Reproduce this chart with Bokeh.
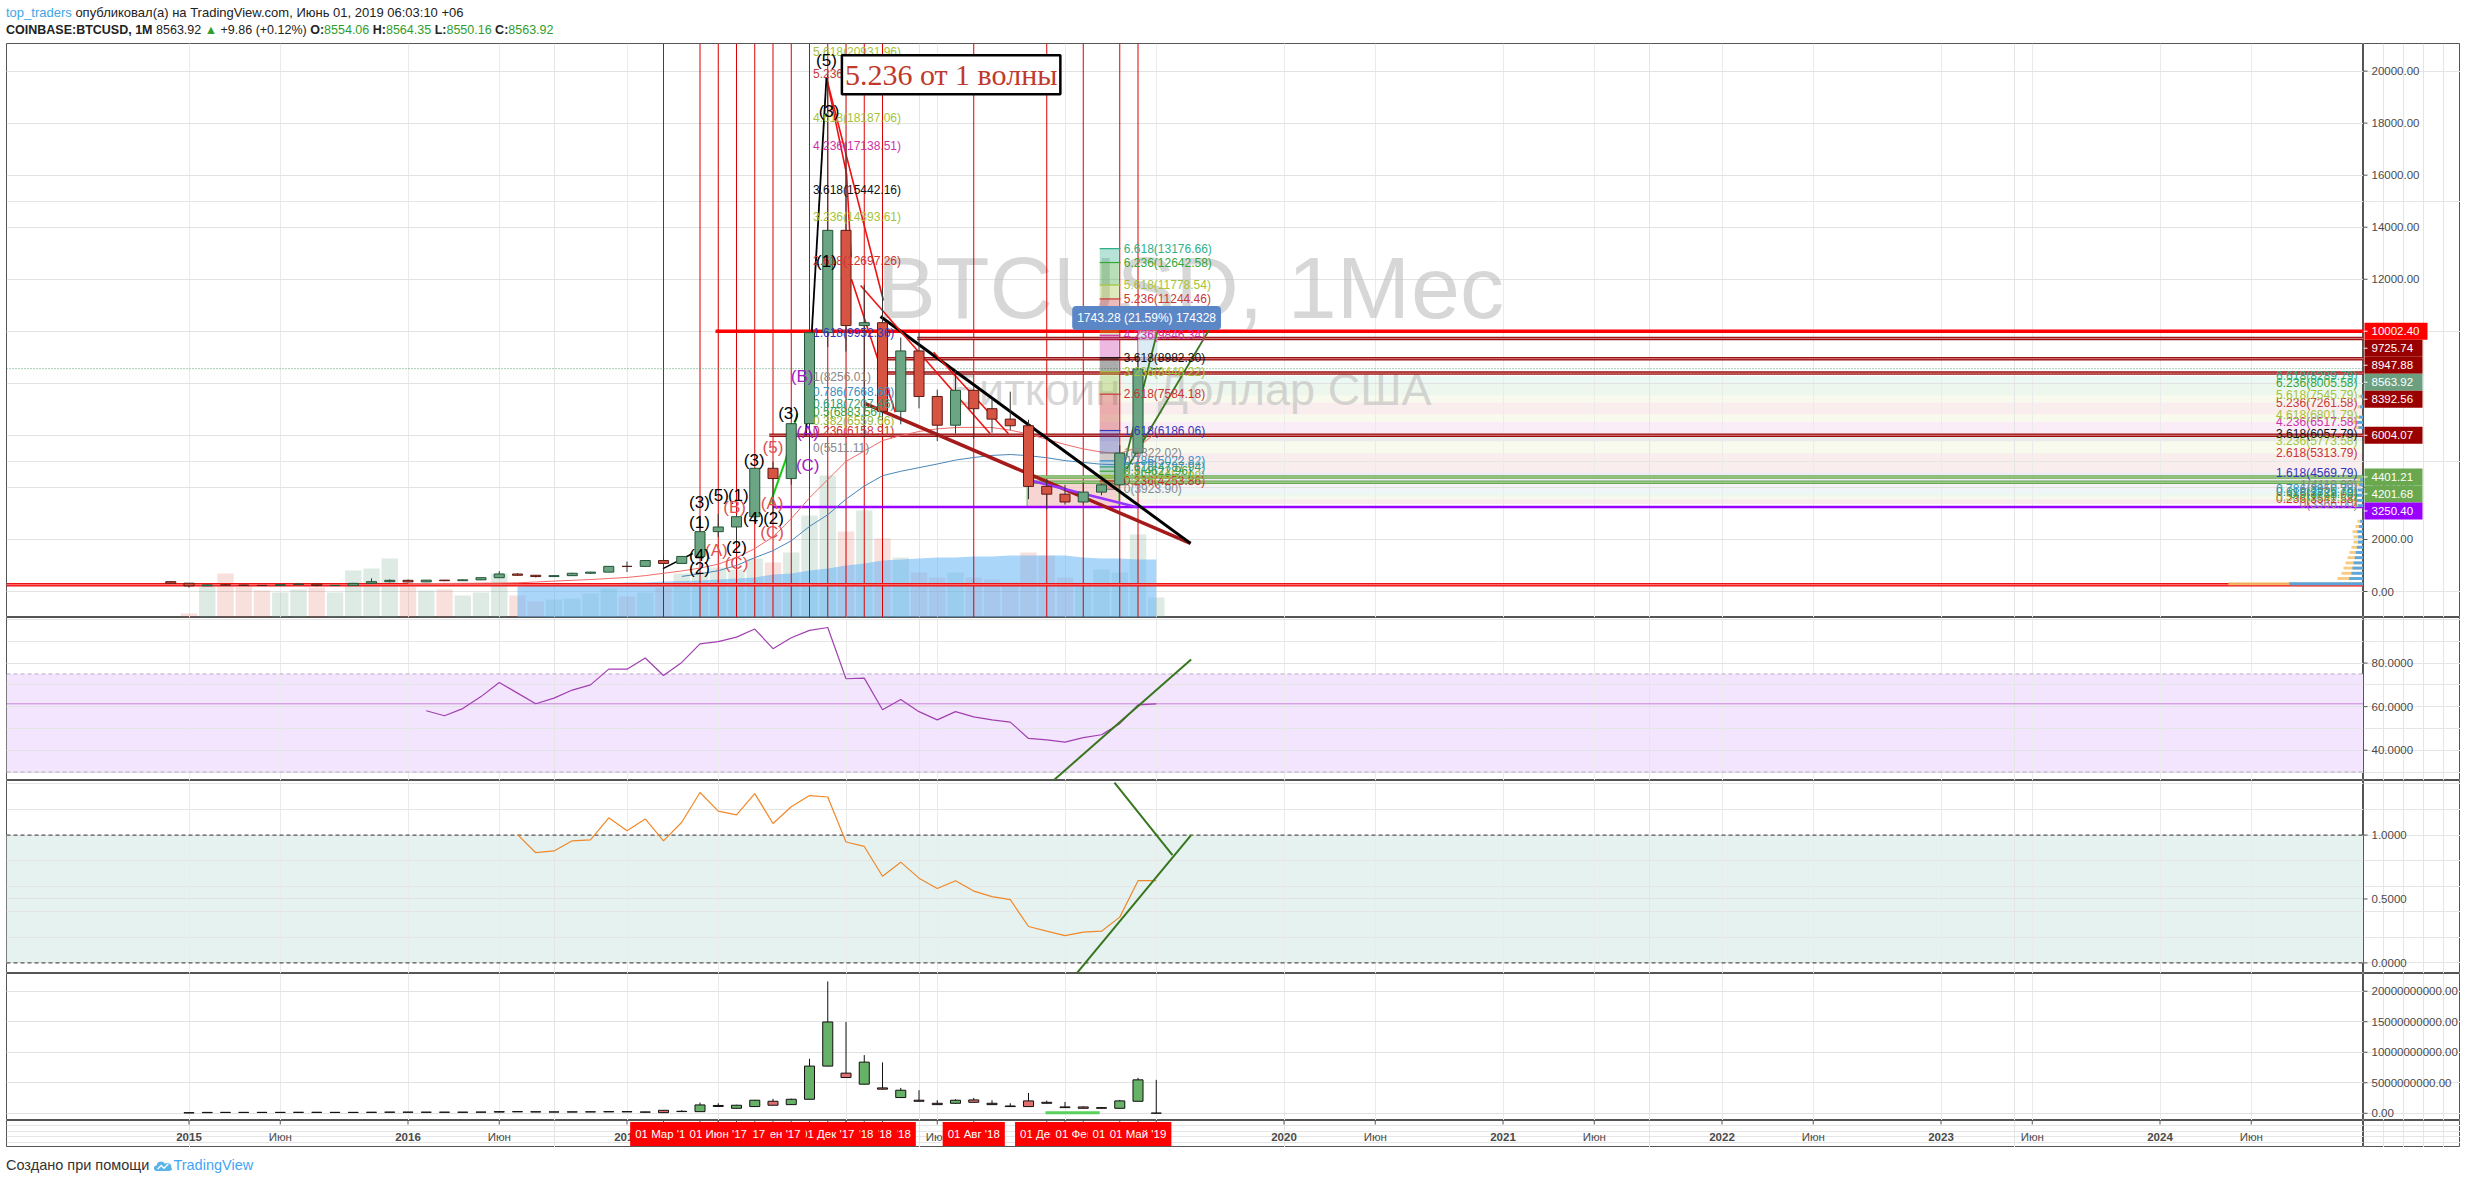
import numpy as np
from bokeh.plotting import figure
from bokeh.models import Range1d, FixedTicker, Label, Grid, Div
from bokeh.layouts import column, row
from bokeh.embed import file_html
from bokeh.resources import INLINE
from bokeh.core.properties import value

# ------------------------------------------------------------------ DATA
months = ["2014-12",
          "2015-01", "2015-02", "2015-03", "2015-04", "2015-05", "2015-06",
          "2015-07", "2015-08", "2015-09", "2015-10", "2015-11", "2015-12",
          "2016-01", "2016-02", "2016-03", "2016-04", "2016-05", "2016-06",
          "2016-07", "2016-08", "2016-09", "2016-10", "2016-11", "2016-12",
          "2017-01", "2017-02", "2017-03", "2017-04", "2017-05", "2017-06",
          "2017-07", "2017-08", "2017-09", "2017-10", "2017-11", "2017-12",
          "2018-01", "2018-02", "2018-03", "2018-04", "2018-05", "2018-06",
          "2018-07", "2018-08", "2018-09", "2018-10", "2018-11", "2018-12",
          "2019-01", "2019-02", "2019-03", "2019-04", "2019-05", "2019-06"]

price_open = [378, 318, 217, 254, 244, 236, 230, 263, 284, 230, 236, 313, 377,
              430, 369, 437, 416, 448, 531, 673, 624, 574, 609, 701, 745,
              966, 965, 1190, 1079, 1348, 2300, 2480, 2875, 4735, 4340, 6450, 9950,
              13880, 10220, 10330, 6925, 9245, 7495, 6390, 7730, 7025, 6625, 6370, 4040,
              3740, 3440, 3820, 4100, 5320, 8554.06]
price_high = [400, 320, 265, 300, 261, 248, 268, 318, 285, 245, 334, 502, 468,
              462, 443, 439, 467, 550, 780, 703, 628, 628, 720, 755, 980,
              1150, 1210, 1350, 1350, 2790, 2980, 2930, 4750, 4980, 6470, 11400, 19891,
              17250, 11780, 11680, 9760, 9990, 7760, 8500, 7760, 7410, 7680, 6600, 4310,
              4100, 4200, 4130, 5620, 9080, 8564.35]
price_low = [305, 152, 212, 238, 214, 228, 219, 253, 199, 225, 236, 300, 350,
             350, 367, 396, 412, 436, 528, 607, 540, 570, 604, 682, 740,
             752, 940, 890, 1060, 1348, 2100, 1830, 2670, 2980, 4110, 5500, 9400,
             9220, 5920, 6600, 6425, 7040, 5780, 6070, 5880, 6100, 6200, 3550, 3160,
             3340, 3380, 3700, 4050, 5320, 8550.16]
price_close = [318, 217, 254, 244, 236, 230, 263, 284, 230, 236, 313, 377, 430,
               369, 437, 416, 448, 531, 673, 624, 574, 609, 701, 745, 966,
               965, 1190, 1079, 1348, 2300, 2480, 2875, 4735, 4340, 6450, 9950, 13880,
               10220, 10330, 6925, 9245, 7495, 6390, 7730, 7025, 6625, 6370, 4040, 3740,
               3440, 3820, 4100, 5320, 8555, 8563.92]

# volume shown as bars inside the price pane (relative units)
pane_volume = [np.nan, 4, 31, 44, 31, 27, 25, 28, 30, 25, 47, 49, 59,
               31, 27, 28, 22, 25, 44, 22, 16, 18, 19, 24, 29,
               21, 25, 30, 44, 45, 50, 48, 59, 55, 65, 102, 142,
               86, 107, 79, 60, 45, 40, 45, 40, 38, 35, 65, 62,
               40, 35, 48, 45, 83, 20]
vol_ma_start = "2016-07"
pane_volume_ma = [31, 32, 34, 34, 34, 34, 35, 35, 36, 36.5, 37, 38, 39, 40, 43, 44, 47, 49,
                  52, 54, 57, 58, 59, 60, 60, 61, 61, 62, 62, 62, 62, 60, 59, 59, 58, 58]

ma_red_start = "2016-01"
ma_red = [300, 305, 310, 315, 320, 325, 335, 365, 400, 430, 460, 500,
          540, 610, 700, 790, 900, 1050, 1300, 1650, 2100, 2800, 3600, 4300,
          5000, 5400, 5800, 5990, 6150, 6250, 6300, 6310, 6300, 6200, 6050, 5850,
          5650, 5480, 5360, 5300, 5550, 6100]
ma_blue_start = "2017-04"
ma_blue = [580, 680, 800, 1000, 1300, 1570, 1950, 2500, 2950,
           3550, 4050, 4450, 4620, 4760, 4900, 5050, 5150, 5230, 5265, 5220, 5140,
           5030, 4960, 4890, 4870, 4950, 5000]

# lower pane: volume candles (billions USD)
nan = np.nan
vol_open = [nan, 0.06, 0.10, 0.15, 0.14, 0.15, 0.14, 0.15, 0.16, 0.15, 0.14, 0.15, 0.17,
            0.19, 0.17, 0.18, 0.17, 0.18, 0.20, 0.27, 0.25, 0.22, 0.21, 0.23, 0.24,
            0.24, 0.22, 0.49, 0.28, 0.27, 1.12, 0.82, 1.10, 1.97, 1.42, 2.30, 7.73,
            6.58, 4.77, 4.16, 2.58, 2.14, 1.64, 1.64, 2.19, 1.64, 1.20, 2.03, 1.80,
            1.04, 1.04, 0.93, 0.82, 1.97, 0.02]
vol_close = [nan, 0.10, 0.15, 0.14, 0.15, 0.14, 0.15, 0.16, 0.15, 0.14, 0.15, 0.17, 0.19,
             0.17, 0.18, 0.17, 0.18, 0.20, 0.27, 0.25, 0.22, 0.21, 0.23, 0.24, 0.27,
             0.27, 0.18, 0.11, 0.33, 1.37, 1.28, 1.32, 2.14, 1.32, 2.30, 7.73, 14.96,
             5.86, 8.38, 3.95, 3.78, 1.97, 1.42, 2.14, 1.80, 1.42, 1.10, 1.10, 1.64,
             0.93, 0.82, 0.82, 2.03, 5.48, 0.03]
vol_high = [nan, 0.12, 0.18, 0.17, 0.17, 0.16, 0.17, 0.18, 0.17, 0.16, 0.17, 0.20, 0.22,
            0.21, 0.20, 0.20, 0.20, 0.22, 0.30, 0.30, 0.26, 0.24, 0.26, 0.27, 0.30,
            0.30, 0.25, 0.52, 0.49, 1.75, 1.64, 1.40, 2.20, 2.36, 2.40, 8.93, 21.6,
            14.96, 9.53, 8.33, 4.16, 3.78, 2.14, 2.30, 2.52, 2.14, 1.64, 3.34, 2.08,
            1.86, 1.15, 1.04, 2.19, 5.80, 5.48]
vol_low = [nan, 0.05, 0.09, 0.12, 0.12, 0.12, 0.12, 0.13, 0.13, 0.12, 0.12, 0.14, 0.15,
           0.15, 0.15, 0.15, 0.15, 0.16, 0.18, 0.22, 0.20, 0.19, 0.19, 0.21, 0.22,
           0.22, 0.15, 0.10, 0.25, 0.25, 1.05, 0.78, 1.05, 1.30, 1.40, 2.25, 7.70,
           5.80, 4.70, 3.90, 2.55, 1.95, 1.40, 1.60, 1.78, 1.40, 1.08, 1.08, 1.60,
           0.90, 0.80, 0.80, 0.80, 1.95, 0.00]

rsi_start = "2016-02"
rsi_values = [58.1, 55.8, 59.1, 64.6, 71.1, 66.2, 61.3, 63.9, 67.6, 70.0, 77.2, 77.2,
              82.3, 74.3, 80.3, 88.8, 89.8, 91.9, 95.6, 86.6, 91.6, 95.0, 96.3,
              72.8, 73.1, 58.6, 63.3, 57.7, 53.9, 57.7, 55.3, 53.9, 52.9, 45.4, 44.7,
              43.7, 45.8, 47.1, 52.2, 60.8, 61.3]
stoch_start = "2016-07"
stoch_values = [1.004, 0.862, 0.876, 0.955, 0.963, 1.135, 1.033, 1.126, 0.955, 1.100,
                1.333, 1.188, 1.158, 1.324, 1.091, 1.222, 1.309, 1.298, 0.946, 0.911,
                0.678, 0.788, 0.663, 0.582, 0.643, 0.562, 0.518, 0.495, 0.285, 0.248,
                0.213, 0.241, 0.248, 0.358, 0.643, 0.643]

# x-axis
tick_months = ["2015-01", "2015-06", "2016-01", "2016-06", "2017-01", "2017-06",
               "2018-01", "2018-06", "2019-01", "2019-06", "2020-01", "2020-06",
               "2021-01", "2021-06", "2022-01", "2022-06", "2023-01", "2023-06",
               "2024-01", "2024-06"]
tick_labels = ["2015", "Июн", "2016", "Июн", "2017", "Июн", "2018", "Июн", "2019", "Июн",
               "2020", "Июн", "2021", "Июн", "2022", "Июн", "2023", "Июн", "2024", "Июн"]

# marked dates (red verticals + red axis labels), in drawing order
marked_dates = ["2017-05", "2017-08", "2017-10", "2017-11", "2018-03", "2018-02",
                "2018-01", "2017-12", "2017-09", "2017-07", "2017-03", "2017-06",
                "2018-08", "2018-12", "2019-02", "2019-04", "2019-05"]
marked_labels = ["01 Май '17", "01 Авг '17", "01 Окт '17", "01 Ноя '17", "01 Мар '18",
                 "01 Фев '18", "01 Янв '18", "01 Дек '17", "01 Сен '17", "01 Июл '17",
                 "01 Мар '17", "01 Июн '17", "01 Авг '18", "01 Дек '18", "01 Фев '19",
                 "01 Апр '19", "01 Май '19"]

# horizontal levels (price, kind, line start in month index)
level_prices = [10002.40, 9725.74, 8947.88, 8563.92, 8392.56, 6004.07, 4401.21, 4201.68, 3250.40]
level_kinds = ["bright", "dark", "dark", "last", "dark", "dark", "green", "green", "purple"]
level_start = [28.85, 39.9, 37.9, -10.0, 37.9, 31.8, 45.9, 45.9, 32.0]
support_price = 262.0

# Fibonacci tools
fib_ratios = [0, 0.236, 0.382, 0.5, 0.618, 0.786, 1, 1.618, 2.618, 3.236, 3.618,
              4.236, 4.618, 5.236, 5.618, 6.236, 6.618]
fib_left = (5511.11, 8256.01)
fib_mid = (3923.90, 5322.02)
fib_right = (3366.00, 4110.00)

# Elliott wave marks (month index, price, text, colour)
waves = [
    (34.93, 20400, "(5)", "black"), (35.07, 18460, "(3)", "black"), (34.93, 12700, "(1)", "black"),
    (32.85, 6840, "(3)", "black"), (33.9, 6122, "(A)", "purple"), (33.9, 4842, "(C)", "purple"),
    (33.6, 8250, "(B)", "purple"), (32.0, 5545, "(5)", "red"), (30.97, 5050, "(3)", "black"),
    (30.93, 2800, "(4)", "black"), (32.03, 2800, "(2)", "black"), (31.95, 3370, "(A)", "red"),
    (31.95, 2280, "(C)", "red"), (27.97, 3430, "(3)", "black"), (29.01, 3690, "(5)", "black"),
    (30.1, 3690, "(1)", "black"), (27.97, 2660, "(1)", "black"), (29.9, 3240, "(B)", "red"),
    (28.9, 1575, "(A)", "red"), (30.0, 1700, "(2)", "black"), (30.0, 1075, "(C)", "red"),
    (27.97, 1380, "(4)", "black"), (27.97, 870, "(2)", "black"),
]

# drawn trend lines (month index, price)
trend_black = [(37.89, 10570), (54.88, 1850)]
trend_darkred = [(37.05, 7220), (54.88, 1850)]
wave_black = [(33.8, 6000), (34.93, 19765)]
wave_black2 = [(25.97, 880), (27.6, 1460)]
wave_green = [(31.84, 3370), (32.68, 5030), (33.33, 6830)]
red_lines = [[(34.92, 19765), (36.03, 16052), (36.28, 12847)],
             [(34.92, 19765), (38.05, 11183)],
             [(36.3, 12000), (38.7, 6890)],
             [(36.8, 11760), (43.9, 6060)],
             [(40.8, 9197), (44.9, 6060)]]
purple_line = [(46.11, 4266), (51.96, 3240)]
green_up_a = [(51.04, 4300), (53.07, 10030)]
green_up_b = [(51.37, 4700), (55.87, 10030)]
rsi_lines = [[(47.35, 26.0), (54.91, 81.6)]]
stoch_lines = [[(50.71, 1.411), (53.89, 0.844)], [(48.66, -0.078), (54.91, 1.0)]]
vol_green_line = [(46.93, 0.11), (49.9, 0.11)]
box_zone = (45.93, 50.95, 3240, 4393)
measure_zone = (52.0, 53.07, 8493, 10030)
measure_text = "1743.28 (21.59%) 174328"
measure_pos = (52.47, 10510)
note_text = "5.236 от 1 волны"
note_pos = (41.76, 19861)

# volume profile at right edge (price bin, volume)
vp_price = [300, 500, 700, 900, 1100, 1300, 1500, 1700, 1900, 2100, 2300, 2500, 2700,
            3300, 3500, 3700, 3900, 4100, 4300, 6300, 6500, 6700, 7100, 7500]
vp_vol = [135, 26, 22, 20, 18, 16, 14, 12, 10, 10, 11, 8, 6, 10, 12, 12, 10, 8, 6,
          9, 12, 8, 6, 5]

# ------------------------------------------------------------------ HELPERS
def midx(s):
    y, m = s.split("-")
    return (int(y) - 2015) * 12 + int(m) - 1

xm = np.array([midx(s) for s in months], dtype=float)
FONT = "Liberation Sans"
X0, X1 = -10.0, 119.15
FW = 2357
RB = 97
LM = 6
xr = Range1d(X0, X1)
tick_x = [midx(s) for s in tick_months]
AXC = "#555555"
LBL = "#4a4a4a"


def base_fig(w, h, xrange, yrange, left=0):
    return figure(frame_width=w, frame_height=h, x_range=xrange, y_range=yrange,
                  x_axis_location=None, y_axis_location=None, title=None,
                  toolbar_location=None, output_backend="svg",
                  min_border_left=left, min_border_right=0, min_border_top=0, min_border_bottom=0,
                  outline_line_color=AXC, outline_line_width=1,
                  background_fill_color="white", border_fill_color="white")


def pane(h, y0, y1, ticks, fmt):
    yr = Range1d(y0, y1)
    p = base_fig(FW, h, xr, yr, left=LM)
    p.add_layout(Grid(dimension=0, ticker=FixedTicker(ticks=tick_x),
                      grid_line_color="#ebebeb", grid_line_width=1))
    p.add_layout(Grid(dimension=1, ticker=FixedTicker(ticks=ticks),
                      grid_line_color="#e2e2e2", grid_line_width=1))
    ax = base_fig(RB, h, Range1d(0, RB), yr)
    ax.segment([0] * len(ticks), ticks, [4] * len(ticks), ticks, line_color=AXC, line_width=1)
    ax.text(x=[8] * len(ticks), y=ticks, text=[fmt % t for t in ticks], text_font=value(FONT),
            text_font_size="11.5px", text_color=LBL, text_align="left", text_baseline="middle")
    return p, ax


def candles(p, xs, o, h, l, c, up, dn, up_line, dn_line, wick, w):
    o, h, l, c = (np.array(a, dtype=float) for a in (o, h, l, c))
    ok = ~np.isnan(o)
    xs, o, h, l, c = xs[ok], o[ok], h[ok], l[ok], c[ok]
    inc = c >= o
    top, bot = np.maximum(o, c), np.minimum(o, c)
    p.segment(xs, h, xs, l, line_color=wick, line_width=1)
    p.vbar(x=xs[inc], width=w, top=top[inc], bottom=bot[inc], fill_color=up, line_color=up_line)
    p.vbar(x=xs[~inc], width=w, top=top[~inc], bottom=bot[~inc], fill_color=dn, line_color=dn_line)


def poly(p, pts, **kw):
    p.line([a for a, b in pts], [b for a, b in pts], **kw)


fib_colors = {0: "#888888", 0.236: "#cc3333", 0.382: "#99b83a", 0.5: "#3ca33c",
              0.618: "#2e9c7a", 0.786: "#3a8fc4", 1: "#888888", 1.618: "#3535b5",
              2.618: "#cc3333", 3.236: "#a3c43c", 3.618: "#111111", 4.236: "#cc33aa",
              4.618: "#a3c43c", 5.236: "#c83a3a", 5.618: "#a3c43c", 6.236: "#35a635",
              6.618: "#2fb08a"}


def fib_levels(base):
    a, b = base
    return [a + r * (b - a) for r in fib_ratios]

# ------------------------------------------------------------------ MAIN PANE
PY0, PY1, PH = -999.0, 21060.0, 574
scale = PH / (PY1 - PY0)
main, main_ax = pane(PH, PY0, PY1, list(range(0, 20001, 2000)), "%.2f")
main.extra_y_ranges = {"pvol": Range1d(0, PH)}

# right fib background bands
rl = fib_levels(fib_right)
for i in range(len(rl) - 1):
    main.quad(left=49.9, right=X1, bottom=rl[i], top=rl[i + 1],
              fill_color=fib_colors[fib_ratios[i + 1]], fill_alpha=0.09, line_color=None, level="image")
bz = box_zone
main.quad(left=bz[0], right=bz[1], bottom=bz[2], top=bz[3], fill_color="#f4c7c3",
          fill_alpha=0.75, line_color="#93c47d", line_width=1.5)

# watermark
cx = (X0 + X1) / 2 + 0.3
main.text(x=[cx], y=[11683], text=["BTCUSD, 1Мес"], text_font=value(FONT),
          text_font_size="88px", text_color="#bdbdbd", text_alpha=0.6,
          text_align="center", text_baseline="middle")
main.text(x=[cx], y=[7760], text=["Биткоин / Доллар США"], text_font=value(FONT),
          text_font_size="45px", text_color="#bdbdbd", text_alpha=0.6,
          text_align="center", text_baseline="middle")

# volume bars + volume MA area (inside the price pane)
pv = np.array(pane_volume, dtype=float)
upc = np.array(price_close) >= np.array(price_open)
main.vbar(x=xm[upc], width=0.9, top=pv[upc], bottom=0, y_range_name="pvol",
          fill_color="#6ba583", fill_alpha=0.22, line_color=None)
main.vbar(x=xm[~upc], width=0.9, top=pv[~upc], bottom=0, y_range_name="pvol",
          fill_color="#d75442", fill_alpha=0.18, line_color=None)
vx = midx(vol_ma_start) + np.arange(len(pane_volume_ma))
main.varea(x=vx, y1=0, y2=pane_volume_ma, y_range_name="pvol", fill_color="#64b5f6", fill_alpha=0.55)

# red vertical markers
for s in marked_dates:
    main.segment(midx(s), PY0, midx(s), PY1, line_color="#dd0000", line_width=1)

# horizontal levels
main.segment(X0, support_price, X1, support_price, line_color="#ee1111", line_width=3.5)
main.segment(X0, support_price, X1, support_price, line_color="#ff9a9a", line_width=0.8)
line_style = {"bright": ("#ff0000", None), "dark": ("#9a1010", "#e8a0a0"),
              "green": ("#6aa84f", "#c9e6bd"), "purple": ("#9900ff", None)}
for pr, kind, st in zip(level_prices, level_kinds, level_start):
    if kind == "last":
        main.segment(X0, pr, X1, pr, line_color="#4f9a6a", line_width=1, line_dash="1 2")
        continue
    c1, c2 = line_style[kind]
    main.segment(st, pr, X1, pr, line_color=c1, line_width=3.5 if kind != "purple" else 2.5)
    if c2:
        main.segment(st, pr, X1, pr, line_color=c2, line_width=0.8)

# moving averages
main.line(midx(ma_red_start) + np.arange(len(ma_red)), ma_red, line_color="#f06a6a", line_width=1)
main.line(midx(ma_blue_start) + np.arange(len(ma_blue)), ma_blue, line_color="#4a86b8", line_width=1)

# middle fib (strip + short lines)
ml = fib_levels(fib_mid)
for i in range(len(ml) - 1):
    main.quad(left=49.9, right=50.95, bottom=ml[i], top=ml[i + 1],
              fill_color=fib_colors[fib_ratios[i + 1]], fill_alpha=0.35, line_color=None)
for r, v in zip(fib_ratios, ml):
    main.segment(49.9, v, 51.04, v, line_color=fib_colors[r], line_width=1.2)
mz = measure_zone
main.quad(left=mz[0], right=mz[1], bottom=mz[2], top=mz[3], fill_color="#cfe2f3",
          fill_alpha=0.7, line_color=None)

# trend lines
poly(main, trend_darkred, line_color="#a51b1b", line_width=3.5)
poly(main, trend_black, line_color="#000000", line_width=3)
for rl_ in red_lines:
    poly(main, rl_, line_color="#ee1111", line_width=1.6)
poly(main, wave_black, line_color="#000000", line_width=1.8)
poly(main, wave_black2, line_color="#000000", line_width=1.5)
poly(main, wave_green, line_color="#11cc11", line_width=2)
poly(main, purple_line, line_color="#9933ff", line_width=2.5)
poly(main, green_up_a, line_color="#38761d", line_width=1.8)
poly(main, green_up_b, line_color="#38761d", line_width=1.8)

# candles
candles(main, xm, price_open, price_high, price_low, price_close,
        "#6ba583", "#d75442", "#225437", "#5b1a13", "#333333", 0.55)

# volume profile at the right edge
vpv = np.array(vp_vol, dtype=float)
px_per_month = FW / (X1 - X0)
main.hbar(y=vp_price, left=X1 - vpv / px_per_month, right=X1, height=110,
          fill_color="#f6c26b", fill_alpha=0.85, line_color=None)
main.hbar(y=vp_price, left=X1 - 0.55 * vpv / px_per_month, right=X1, height=110,
          fill_color="#4aa3e8", fill_alpha=0.9, line_color=None)

# fib labels (only levels inside the visible price range, kept fully inside the frame)
def fib_text(p, levels, x, align, xoff=0):
    keep = [i for i, v in enumerate(levels) if v < PY1]
    top_limit = PY1 - 8 / scale
    p.text(x=[x] * len(keep), y=[min(levels[i], top_limit) for i in keep], x_offset=xoff,
           text=[f"{fib_ratios[i]:g}({levels[i]:.2f})" for i in keep],
           text_color=[fib_colors[fib_ratios[i]] for i in keep], text_font=value(FONT),
           text_font_size="12px", text_baseline="middle", text_align=align)

fib_text(main, fib_levels(fib_left), 34.19, "left")
fib_text(main, ml, 51.22, "left")
fib_text(main, fib_levels(fib_right), X1, "right", -6)

# Elliott labels
wave_col = {"black": "#000000", "red": "#e05050", "purple": "#a020c0"}
main.text(x=[w[0] for w in waves], y=[w[1] for w in waves], text=[w[2] for w in waves],
          text_color=[wave_col[w[3]] for w in waves], text_font=value(FONT),
          text_font_size="17px", text_align="center", text_baseline="middle")

# note box and measure label
main.add_layout(Label(x=note_pos[0], y=note_pos[1], text=note_text, text_font="Liberation Serif",
                      text_font_size="30px", text_color="#c0392b", text_align="center",
                      text_baseline="middle", background_fill_color="white",
                      border_line_color="black", border_line_width=2.5, padding=3))
main.add_layout(Label(x=measure_pos[0], y=measure_pos[1], text=measure_text, text_font=FONT,
                      text_font_size="12px", text_color="white", text_align="center",
                      text_baseline="middle", background_fill_color="#5b87c6",
                      border_radius=4, padding=5))

# price labels on the axis strip, stacked to avoid overlap
box_col = {"bright": "#ff0000", "dark": "#990000", "last": "#6b9f80",
           "green": "#6aa84f", "purple": "#9900ff"}
prev = -1e9
ys, cols, txts = [], [], []
for pr, kind in sorted(zip(level_prices, level_kinds), key=lambda t: -t[0]):
    px = max((PY1 - pr) * scale, prev + 17)
    prev = px
    ys.append(PY1 - px / scale)
    cols.append(box_col[kind])
    txts.append(f"{pr:.2f}")
main_ax.quad(left=1, right=[64 if c == "#ff0000" else 59 for c in cols],
             bottom=[y - 8.5 / scale for y in ys], top=[y + 8.5 / scale for y in ys],
             fill_color=cols, line_color=None)
main_ax.segment([0] * len(ys), ys, [4] * len(ys), ys, line_color="white", line_width=1)
main_ax.text(x=[8] * len(ys), y=ys, text=txts, text_font=value(FONT), text_font_size="11.5px",
             text_color="white", text_align="left", text_baseline="middle")

# ------------------------------------------------------------------ RSI PANE
rsi, rsi_ax = pane(163, 26.1, 100.9, [40, 60, 80], "%.4f")
rsi.quad(left=X0, right=X1, bottom=30, top=75, fill_color="#f3e5fd", line_color=None, level="image")
rsi.segment([X0, X0], [30, 75], [X1, X1], [30, 75], line_color="#b9a9c9", line_dash="4 3", line_width=1)
rsi.segment(X0, 61.3, X1, 61.3, line_color="#9c27b0", line_dash="1 1", line_width=1)
rsi.line(midx(rsi_start) + np.arange(len(rsi_values)), rsi_values, line_color="#a040b0", line_width=1.2)
for ln in rsi_lines:
    poly(rsi, ln, line_color="#38761d", line_width=2)

# ------------------------------------------------------------------ STOCH PANE
sto, sto_ax = pane(193, -0.083, 1.427, [0, 0.5, 1.0], "%.4f")
sto.quad(left=X0, right=X1, bottom=0, top=1, fill_color="#e5f2f0", line_color=None, level="image")
sto.segment([X0, X0], [0, 1], [X1, X1], [0, 1], line_color="#555555", line_dash="4 3", line_width=1.2)
sto.line(midx(stoch_start) + np.arange(len(stoch_values)), stoch_values, line_color="#f0882a", line_width=1.2)
for ln in stoch_lines:
    poly(sto, ln, line_color="#38761d", line_width=2)

# ------------------------------------------------------------------ VOLUME CANDLE PANE
vol, vol_ax = pane(147, -1.18e9, 22.9e9, [0, 5e9, 10e9, 15e9, 20e9], "%.2f")
B = 1e9
candles(vol, xm, np.array(vol_open) * B, np.array(vol_high) * B, np.array(vol_low) * B,
        np.array(vol_close) * B, "#66b266", "#e07070", "#111111", "#111111", "#111111", 0.55)
vol.line([a for a, b in vol_green_line], [b * B for a, b in vol_green_line],
         line_color="#5ad15a", line_width=3)

# ------------------------------------------------------------------ X AXIS STRIP
axs = base_fig(FW, 27, xr, Range1d(0, 1), left=LM)
axs_r = base_fig(RB, 27, Range1d(0, RB), Range1d(0, 1))
all_ticks = tick_x + [midx(s) for s in marked_dates]
axs.segment(all_ticks, [1] * len(all_ticks), all_ticks, [1 - 4 / 27] * len(all_ticks),
            line_color=AXC, line_width=1)
yrs = [i for i, t in enumerate(tick_labels) if t != "Июн"]
mns = [i for i, t in enumerate(tick_labels) if t == "Июн"]
axs.text(x=[tick_x[i] for i in yrs], y=[0.4] * len(yrs), text=[tick_labels[i] for i in yrs],
         text_font=value(FONT), text_font_style="bold", text_font_size="11.5px",
         text_color=LBL, text_align="center", text_baseline="middle")
axs.text(x=[tick_x[i] for i in mns], y=[0.4] * len(mns), text=[tick_labels[i] for i in mns],
         text_font=value(FONT), text_font_size="11.5px",
         text_color=LBL, text_align="center", text_baseline="middle")
for s, t in zip(marked_dates, marked_labels):
    axs.add_layout(Label(x=midx(s), y=0.5, text=t, text_font=FONT, text_font_size="11.5px",
                         text_color="white", text_align="center", text_baseline="middle",
                         background_fill_color="#ff0000", padding=(5, 6)))

# ------------------------------------------------------------------ HEADER / FOOTER
G = "#2f9e2f"
header = Div(text=(
    "<div style=\"font-family:'Liberation Sans',Arial,sans-serif;font-size:13px;line-height:17px;"
    "color:#222;white-space:nowrap;height:43px;box-sizing:border-box;padding:4px 0 0 6px;\">"
    "<span style='color:#3fa6e3'>top_traders</span> опубликовал(а) на TradingView.com, "
    "Июнь 01, 2019 06:03:10 +06<br>"
    "<span style='font-size:12.5px'><b>COINBASE:BTCUSD, 1M</b> 8563.92 "
    f"<span style='color:{G}'>▲</span> +9.86 (+0.12%) "
    f"<b>O:</b><span style='color:{G}'>8554.06</span> <b>H:</b><span style='color:{G}'>8564.35</span> "
    f"<b>L:</b><span style='color:{G}'>8550.16</span> <b>C:</b><span style='color:{G}'>8563.92</span>"
    "</span></div>"),
    width=LM + FW + RB, height=43, margin=0)
footer = Div(text=(
    "<div style=\"font-family:'Liberation Sans',Arial,sans-serif;font-size:14.5px;line-height:17px;"
    "color:#333;white-space:nowrap;padding:10px 0 0 6px;\">Создано при помощи "
    "<svg width='20' height='13' viewBox='0 0 22 14' style='vertical-align:-2px'>"
    "<path d='M4 13 C0 13 0 7 4 7 C4 2 11 1 13 5 C16 3 21 5 20 9 C22 11 20 13 18 13 Z' fill='#5ab4ea'/>"
    "<path d='M5 11 L9 7 L12 10 L17 5' stroke='white' stroke-width='1.5' fill='none'/></svg>"
    "<span style='color:#42a5f5'>TradingView</span></div>"),
    width=LM + FW + RB, height=34, margin=0)

layout = column(header,
                row(main, main_ax, spacing=0),
                row(rsi, rsi_ax, spacing=0),
                row(sto, sto_ax, spacing=0),
                row(vol, vol_ax, spacing=0),
                row(axs, axs_r, spacing=0),
                footer, spacing=0)
open("out.html", "w").write(file_html(layout, INLINE))
